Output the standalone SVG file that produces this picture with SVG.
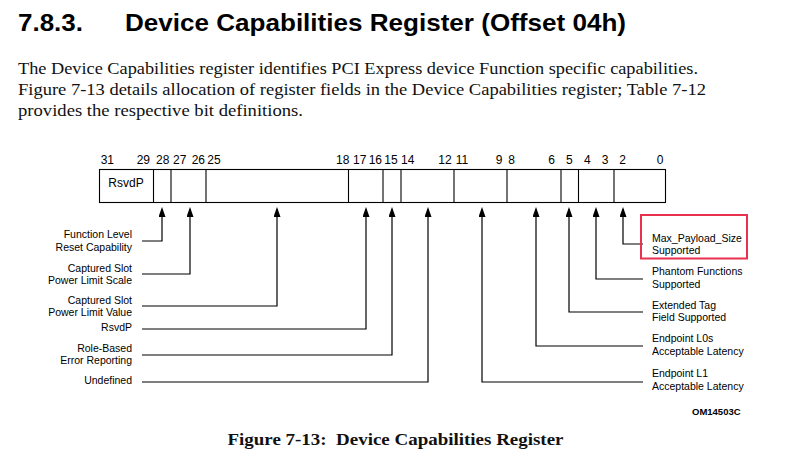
<svg xmlns="http://www.w3.org/2000/svg" width="795" height="458" viewBox="0 0 795 458">
<style>
.title{font-family:"Liberation Sans",Arial,sans-serif;font-weight:bold;font-size:24px;fill:#000}
.para{font-family:"Liberation Serif","Times New Roman",serif;font-size:17px;fill:#111}
.cap{font-family:"Liberation Serif","Times New Roman",serif;font-weight:bold;font-size:16px;fill:#111}
.bit{font-family:"Liberation Sans",Arial,sans-serif;font-size:12px;fill:#000}
.lbl{font-family:"Liberation Sans",Arial,sans-serif;font-size:10.5px;fill:#000}
.lr{text-anchor:end}
.reg{fill:#fff;stroke:#000;stroke-width:1.1}
.div{stroke:#000;stroke-width:1.1}
.conn{fill:none;stroke:#000;stroke-width:1.2;marker-end:url(#ah)}
.om{font-family:"Liberation Sans",Arial,sans-serif;font-weight:bold;font-size:9.5px;fill:#000}
</style>
<defs>
<marker id="ah" viewBox="0 0 10 7" refX="8" refY="3.5" markerWidth="10" markerHeight="7" markerUnits="userSpaceOnUse" orient="auto">
<path d="M0,0 L10,3.5 L0,7 z" fill="#000"/>
</marker>
</defs>
<rect width="795" height="458" fill="#fff"/>
<g id="heading">
<text class="title" x="18" y="31" textLength="65" lengthAdjust="spacingAndGlyphs">7.8.3.</text>
<text class="title" x="125" y="31" textLength="501" lengthAdjust="spacingAndGlyphs">Device Capabilities Register (Offset 04h)</text>
</g>
<g id="paragraph">
<text class="para" x="18" y="74" textLength="680" lengthAdjust="spacingAndGlyphs">The Device Capabilities register identifies PCI Express device Function specific capabilities.</text>
<text class="para" x="18" y="95" textLength="688" lengthAdjust="spacingAndGlyphs">Figure 7-13 details allocation of register fields in the Device Capabilities register; Table 7-12</text>
<text class="para" x="18" y="116" textLength="285" lengthAdjust="spacingAndGlyphs">provides the respective bit definitions.</text>
</g>
<g id="bit-numbers">
<text class="bit" x="100.7" y="163.5">31</text>
<text class="bit" x="136.7" y="163.5">29</text>
<text class="bit" x="156" y="163.5">28</text>
<text class="bit" x="173" y="163.5">27</text>
<text class="bit" x="191.7" y="163.5">26</text>
<text class="bit" x="207.3" y="163.5">25</text>
<text class="bit" x="336" y="163.5">18</text>
<text class="bit" x="353" y="163.5">17</text>
<text class="bit" x="368.7" y="163.5">16</text>
<text class="bit" x="384.3" y="163.5">15</text>
<text class="bit" x="401" y="163.5">14</text>
<text class="bit" x="438.3" y="163.5">12</text>
<text class="bit" x="455.7" y="163.5">11</text>
<text class="bit" x="495.7" y="163.5">9</text>
<text class="bit" x="508.3" y="163.5">8</text>
<text class="bit" x="548.3" y="163.5">6</text>
<text class="bit" x="566" y="163.5">5</text>
<text class="bit" x="584" y="163.5">4</text>
<text class="bit" x="601.7" y="163.5">3</text>
<text class="bit" x="619.3" y="163.5">2</text>
<text class="bit" x="656.7" y="163.5">0</text>
</g>
<g id="register">
<rect class="reg" x="99.5" y="169.5" width="566" height="33"/>
<line class="div" x1="153.5" y1="169.5" x2="153.5" y2="202.5"/>
<line class="div" x1="171" y1="169.5" x2="171" y2="202.5"/>
<line class="div" x1="206" y1="169.5" x2="206" y2="202.5"/>
<line class="div" x1="348.5" y1="169.5" x2="348.5" y2="202.5"/>
<line class="div" x1="383" y1="169.5" x2="383" y2="202.5"/>
<line class="div" x1="401" y1="169.5" x2="401" y2="202.5"/>
<line class="div" x1="454" y1="169.5" x2="454" y2="202.5"/>
<line class="div" x1="507" y1="169.5" x2="507" y2="202.5"/>
<line class="div" x1="561" y1="169.5" x2="561" y2="202.5"/>
<line class="div" x1="578.5" y1="169.5" x2="578.5" y2="202.5"/>
<line class="div" x1="614" y1="169.5" x2="614" y2="202.5"/>
<text class="bit" x="108.3" y="187">RsvdP</text>
</g>
<g id="connectors">
<path class="conn" d="M142,241 H162 V209"/>
<path class="conn" d="M142,274 H190 V209"/>
<path class="conn" d="M142,306 H277 V209"/>
<path class="conn" d="M142,329 H366 V209"/>
<path class="conn" d="M142,355 H392 V209"/>
<path class="conn" d="M142,382 H428 V209"/>
<path class="conn" d="M643,382 H482 V209"/>
<path class="conn" d="M643,346 H536 V209"/>
<path class="conn" d="M643,312 H569 V209"/>
<path class="conn" d="M643,279 H596 V209"/>
<path class="conn" d="M643,244 H623 V209"/>
</g>
<g id="flr-capability"><text class="lbl lr" x="132" y="238">Function Level</text><text class="lbl lr" x="132" y="250.5">Reset Capability</text></g>
<g id="slot-power-scale"><text class="lbl lr" x="132" y="271.5">Captured Slot</text><text class="lbl lr" x="132" y="284">Power Limit Scale</text></g>
<g id="slot-power-value"><text class="lbl lr" x="132" y="303.5">Captured Slot</text><text class="lbl lr" x="132" y="316">Power Limit Value</text></g>
<g id="rsvdp"><text class="lbl lr" x="132" y="331">RsvdP</text></g>
<g id="role-based-error"><text class="lbl lr" x="132" y="351.5">Role-Based</text><text class="lbl lr" x="132" y="364">Error Reporting</text></g>
<g id="undefined"><text class="lbl lr" x="132" y="384">Undefined</text></g>
<g id="max-payload">
<rect x="641" y="215" width="106" height="43.5" fill="none" stroke="#e8304f" stroke-width="2"/>
<text class="lbl" x="652" y="241.5">Max_Payload_Size</text><text class="lbl" x="652" y="254">Supported</text>
</g>
<g id="phantom-functions"><text class="lbl" x="652" y="275">Phantom Functions</text><text class="lbl" x="652" y="287.5">Supported</text></g>
<g id="extended-tag"><text class="lbl" x="652" y="308.5">Extended Tag</text><text class="lbl" x="652" y="321">Field Supported</text></g>
<g id="l0s-latency"><text class="lbl" x="652" y="342">Endpoint L0s</text><text class="lbl" x="652" y="354.5">Acceptable Latency</text></g>
<g id="l1-latency"><text class="lbl" x="652" y="377">Endpoint L1</text><text class="lbl" x="652" y="389.5">Acceptable Latency</text></g>
<g id="figure-id"><text class="om" x="692" y="414.5">OM14503C</text></g>
<g id="caption"><text class="cap" x="227.5" y="445" textLength="336" lengthAdjust="spacingAndGlyphs" xml:space="preserve">Figure 7-13:  Device Capabilities Register</text></g>
</svg>
